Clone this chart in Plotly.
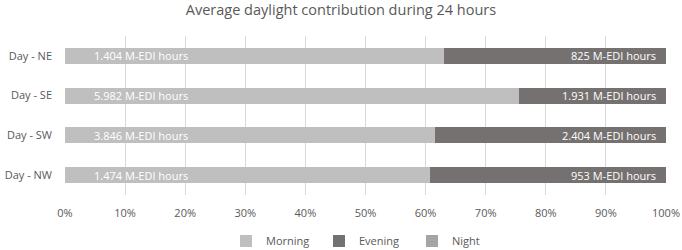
import plotly.graph_objects as go

categories = ["Day - NE", "Day - SE", "Day - SW", "Day - NW"]
morning = [1404, 5982, 3846, 1474]
evening = [825, 1931, 2404, 953]
night = [0, 0, 0, 0]
tick_vals = [0, 10, 20, 30, 40, 50, 60, 70, 80, 90, 100]
tick_text = [f"{v}%" for v in tick_vals]

FONT = "Open Sans"
GREY = "#595959"

def fmt(v):
    return f"{v:,}".replace(",", ".") + " M-EDI hours"

fig = go.Figure()
fig.add_trace(go.Bar(name="Morning", y=categories, x=morning, orientation="h",
                     marker=dict(color="#BFBFBF", line=dict(width=0))))
fig.add_trace(go.Bar(name="Evening", y=categories, x=evening, orientation="h",
                     marker=dict(color="#767171", line=dict(width=0))))
fig.add_trace(go.Bar(name="Night", y=categories, x=night, orientation="h",
                     marker=dict(color="#A5A5A5", line=dict(width=0))))

annotations = []
for c, m, e in zip(categories, morning, evening):
    annotations.append(dict(x=0, y=c, xref="x", yref="y", text=fmt(m), showarrow=False,
                            xanchor="left", xshift=27, font=dict(family=FONT, size=11, color="white")))
    annotations.append(dict(x=100, y=c, xref="x", yref="y", text=fmt(e), showarrow=False,
                            xanchor="right", xshift=-8, font=dict(family=FONT, size=11, color="white")))

fig.update_layout(
    width=682, height=250,
    barmode="stack", barnorm="percent", bargap=0.6,
    paper_bgcolor="white", plot_bgcolor="white",
    margin=dict(l=65, r=16, t=36, b=55, autoexpand=False),
    title=dict(text="Average daylight contribution during 24 hours", x=0.5, xanchor="center",
               y=0.96, yanchor="middle", font=dict(family=FONT, size=14.5, color=GREY)),
    font=dict(family=FONT, size=11, color=GREY),
    xaxis=dict(range=[0, 100], tickvals=tick_vals, ticktext=tick_text, showgrid=True,
               gridcolor="#D9D9D9", gridwidth=1, zeroline=False, showline=False,
               tickfont=dict(family=FONT, size=11, color=GREY), ticklen=0, ticks="",
               ticklabelstandoff=10, automargin=False),
    yaxis=dict(autorange="reversed", showgrid=False, showline=False, ticks="", ticklen=0,
               tickfont=dict(family=FONT, size=11, color=GREY), ticklabelstandoff=12,
               automargin=False),
    legend=dict(orientation="h", x=0.5, xanchor="center", y=-0.29, yanchor="middle",
                font=dict(family=FONT, size=11, color=GREY), traceorder="normal",
                itemwidth=30, entrywidth=48, entrywidthmode="pixels"),
    annotations=annotations,
    showlegend=True,
)

fig.write_html("out.html", config={"displayModeBar": False},
               post_script="document.body.style.margin='0';document.body.style.overflow='hidden';")
